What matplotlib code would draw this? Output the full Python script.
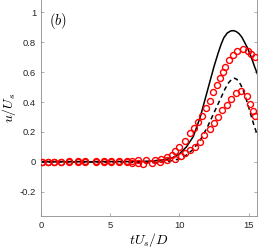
import numpy as np
import matplotlib
matplotlib.use("Agg")
import matplotlib.pyplot as plt

plt.rcParams['mathtext.fontset'] = 'cm'

# Solid line (black)
solid_x = [0, 7, 8, 9, 9.5, 10, 10.5, 11, 11.5, 12, 12.5, 12.8, 13.0, 13.2, 13.45, 13.7, 13.9,
           14.1, 14.3, 14.5, 14.7, 14.9, 15.1, 15.3, 15.45, 15.62]
solid_y = [0, 0.002, 0.006, 0.015, 0.028, 0.055, 0.10, 0.17, 0.30, 0.47, 0.64, 0.73, 0.785, 0.83,
           0.862, 0.876, 0.878, 0.872, 0.858, 0.835, 0.80, 0.765, 0.72, 0.67, 0.63, 0.59]

# Dashed line (black)
dash_x = [0, 7, 8, 9, 9.5, 10, 10.5, 11, 11.5, 12, 12.5, 13, 13.3, 13.55, 13.8, 13.95, 14.15,
          14.4, 14.6, 14.8, 15.0, 15.2, 15.4, 15.62]
dash_y = [0, -0.002, -0.005, 0.0, 0.01, 0.02, 0.045, 0.085, 0.145, 0.23, 0.33, 0.43, 0.49, 0.53,
          0.555, 0.56, 0.552, 0.52, 0.48, 0.425, 0.365, 0.30, 0.24, 0.18]

# Red circles, upper series
a_x = [0.1, 0.53, 0.96, 1.41, 2.0, 2.65, 3.2, 4.0, 4.55, 5.07, 5.6, 6.2, 6.6, 7.0, 7.6, 8.2, 8.7,
       9.1, 9.45, 9.7, 10.0, 10.4, 10.75, 11.05, 11.35, 11.65, 11.95, 12.2, 12.45, 12.7, 12.95,
       13.15, 13.3, 13.55, 13.85, 14.15, 14.6, 14.95, 15.2, 15.45]
a_y = [0.002, 0.002, 0.002, 0.002, 0.003, 0.003, 0.003, 0.003, 0.003, 0.003, 0.003, 0.005, 0.008,
       0.01, 0.012, 0.015, 0.02, 0.03, 0.045, 0.07, 0.10, 0.14, 0.19, 0.23, 0.27, 0.31, 0.36,
       0.41, 0.465, 0.515, 0.56, 0.60, 0.635, 0.68, 0.715, 0.745, 0.755, 0.74, 0.725, 0.70]

# Red circles, lower series
b_x = [0.1, 0.53, 0.96, 1.41, 2.0, 2.65, 3.2, 4.0, 4.55, 5.07, 5.6, 6.2, 6.6, 7.0, 7.35, 8.0,
       8.6, 9.1, 9.7, 10.1, 10.4, 10.75, 11.1, 11.45, 11.8, 12.2, 12.5, 12.8, 13.1, 13.45, 13.7,
       14.05, 14.45, 14.85, 15.1, 15.3, 15.45]
b_y = [0.0, 0.0, 0.0, 0.0, 0.0, 0.0, 0.0, 0.0, 0.0, 0.0, 0.0, -0.002, -0.005, -0.01, -0.015,
       -0.01, 0.0, 0.01, 0.02, 0.04, 0.06, 0.08, 0.10, 0.13, 0.18, 0.22, 0.26, 0.30, 0.35, 0.38,
       0.42, 0.46, 0.475, 0.44, 0.39, 0.34, 0.31]

yticks = [-0.2, 0, 0.2, 0.4, 0.6, 0.8, 1]
yticklabels = ['-0.2', '0', '0.2', '0.4', '0.6', '0.8', '1']
xticks = [0, 5, 10, 15]
xticklabels = ['0', '5', '10', '15']

fig = plt.figure(figsize=(2.59, 2.49), dpi=100)
ax = fig.add_axes([41/259, (249-215.7)/249, (257.3-41)/259, 215.7/249])

ax.plot(solid_x, solid_y, color='black', lw=1.1, zorder=2)
ax.plot(dash_x, dash_y, color='black', lw=1.1, ls=(0, (3, 2.2)), zorder=2)
ax.plot(a_x, a_y, ls='none', marker='o', ms=4.3, mfc='none', mec='red', mew=1.0, zorder=3)
ax.plot(b_x, b_y, ls='none', marker='o', ms=4.3, mfc='none', mec='red', mew=1.0, zorder=3)

ax.set_xlim(0, 15.62)
ax.set_ylim(-0.36, 1.083)
ax.set_xticks(xticks)
ax.set_xticklabels(xticklabels)
ax.set_yticks(yticks)
ax.set_yticklabels(yticklabels)

for s in ['left', 'bottom', 'right']:
    ax.spines[s].set_color('#8c8c8c')
    ax.spines[s].set_linewidth(0.6)
ax.spines['top'].set_visible(False)
ax.tick_params(direction='in', length=2.5, width=0.5, color='#8c8c8c',
               labelsize=6.8, labelcolor='#262626', right=True, pad=3.5)
for lab in ax.get_xticklabels() + ax.get_yticklabels():
    lab.set_fontfamily('Liberation Sans')

ax.set_xlabel('$tU_s/D$', fontsize=10, labelpad=1)
ax.set_ylabel('$u/U_s$', fontsize=10, labelpad=1)
ax.text(0.55, 0.94, '$(b)$', fontsize=10.5, ha='left', va='center')

fig.savefig('out.png', dpi=100)
